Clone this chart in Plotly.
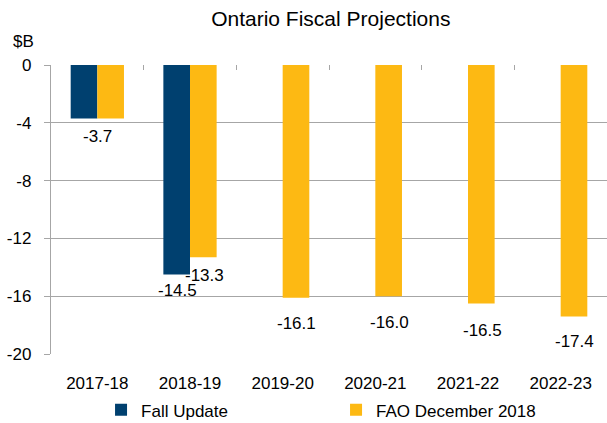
import plotly.graph_objects as go

categories = ["2017-18", "2018-19", "2019-20", "2020-21", "2021-22", "2022-23"]
fall_update = [-3.7, -14.5, None, None, None, None]
fao_dec_2018 = [-3.7, -13.3, -16.1, -16.0, -16.5, -17.4]
y_ticks = [0, -4, -8, -12, -16, -20]

# data labels: (category, value, text) plus styling offsets in px
label_items = [
    ("2017-18", -3.7, "-3.7"),
    ("2018-19", -14.5, "-14.5"),
    ("2018-19", -13.3, "-13.3"),
    ("2019-20", -16.1, "-16.1"),
    ("2020-21", -16.0, "-16.0"),
    ("2021-22", -16.5, "-16.5"),
    ("2022-23", -17.4, "-17.4"),
]
label_xshift = [0, -13, 14, 14, 14, 14, 14]
label_yshift = [-18, -16, -18, -26, -26, -27, -25]

NAVY = "#00406F"
GOLD = "#FDB913"
GRID = "#A6A6A6"
FONT = "Liberation Sans, Arial, sans-serif"

fig = go.Figure()
fig.add_trace(go.Bar(name="Fall Update", x=categories, y=fall_update,
                     marker=dict(color=NAVY, line=dict(width=0))))
fig.add_trace(go.Bar(name="FAO December 2018", x=categories, y=fao_dec_2018,
                     marker=dict(color=GOLD, line=dict(width=0))))
# helper trace for the top axis with category-boundary ticks
fig.add_trace(go.Scatter(x=[0, len(categories)], y=[0, 0], xaxis="x2", mode="lines",
                         line=dict(width=0), showlegend=False, hoverinfo="skip"))

annotations = []
for (cat, val, txt), xs, ys in zip(label_items, label_xshift, label_yshift):
    annotations.append(dict(x=cat, y=val, xref="x", yref="y", text=txt, showarrow=False,
                            xshift=xs, yshift=ys, yanchor="middle",
                            font=dict(family=FONT, size=17, color="#000000")))
annotations.append(dict(x=-0.05, y=1.08, xref="paper", yref="paper", text="$B",
                        showarrow=False, xanchor="center", yanchor="middle",
                        font=dict(family=FONT, size=17, color="#000000")))

fig.update_layout(
    width=607, height=423,
    margin=dict(l=51, r=0, t=65, b=69, autoexpand=False),
    paper_bgcolor="white", plot_bgcolor="white",
    barmode="group", bargap=0.425, bargroupgap=0,
    title=dict(text="Ontario Fiscal Projections", x=0.545, xanchor="center",
               y=0.955, yanchor="middle",
               font=dict(family=FONT, size=21, color="#000000")),
    font=dict(family=FONT, size=16, color="#000000"),
    xaxis=dict(type="category", showgrid=False, ticks="", showline=False,
               zeroline=False, tickfont=dict(family=FONT, size=17),
               ticklabelstandoff=17),
    xaxis2=dict(overlaying="x", side="top", anchor="y", range=[0, len(categories)],
                tickvals=list(range(1, len(categories))), ticks="inside", ticklen=5,
                tickcolor=GRID, tickwidth=1, showticklabels=False, showgrid=False,
                zeroline=False, showline=False),
    yaxis=dict(range=[-20, 0], tickvals=y_ticks, ticktext=[str(v) for v in y_ticks],
               showgrid=True, gridcolor=GRID, gridwidth=1.3, zeroline=False,
               showline=True, linecolor=GRID, linewidth=1.3,
               ticks="outside", ticklen=6, tickcolor=GRID,
               tickfont=dict(family=FONT, size=17), ticklabelstandoff=9),
    legend=dict(orientation="h", x=0.09, xanchor="left",
                yref="container", y=0.03, yanchor="middle",
                entrywidth=190, entrywidthmode="pixels",
                font=dict(family=FONT, size=17), itemwidth=30),
    annotations=annotations,
    showlegend=True,
)

fig.write_html("out.html")
